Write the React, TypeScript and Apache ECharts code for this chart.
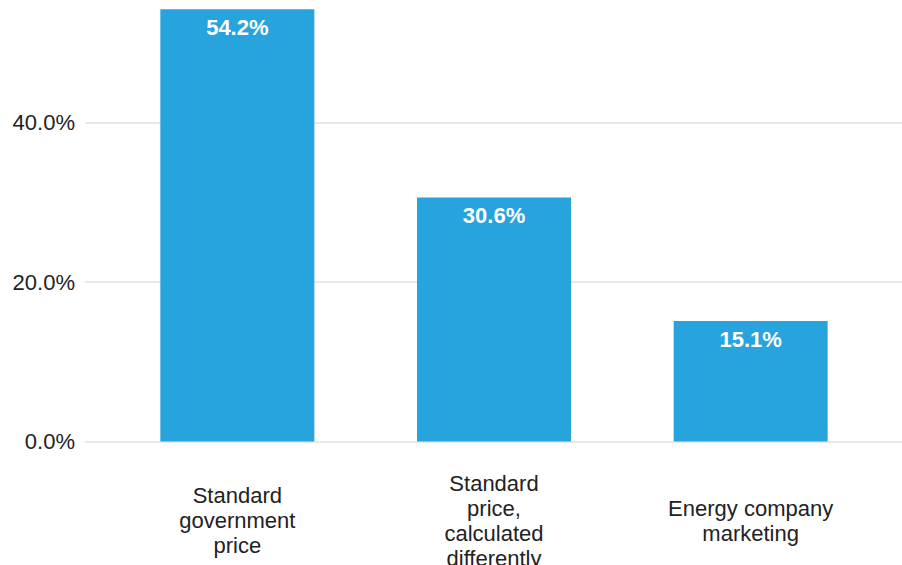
import React, { useEffect, useRef } from "react";
import * as echarts from "echarts";

const categories = [
  "Standard\ngovernment\nprice",
  "Standard\nprice,\ncalculated\ndifferently",
  "Energy company\nmarketing",
];
const values = [54.2, 30.6, 15.1];
const yMin = 0;
const yMax = 60;
const yInterval = 20;
const yLabelLimit = 40;

const FONT = "'Liberation Sans', Arial, sans-serif";

export default function App() {
  const ref = useRef<HTMLDivElement>(null);
  useEffect(() => {
    if (!ref.current) return;
    const chart = echarts.init(ref.current, undefined, { renderer: "svg" });
    chart.setOption({
      animation: false,
      backgroundColor: "#ffffff",
      grid: [
        { left: 85, right: 0, top: -37, bottom: 123.5, containLabel: false, outerBoundsMode: "none" },
        { left: 109, right: 23, top: -37, bottom: 123.5, containLabel: false, outerBoundsMode: "none" },
      ],
      xAxis: [
        { type: "value", gridIndex: 0, show: false, min: 0, max: 1 },
        {
          type: "category",
          gridIndex: 1,
          data: categories,
          axisLine: { show: false },
          axisTick: { show: false },
          axisLabel: {
            interval: 0,
            margin: 79,
            verticalAlign: "middle",
            lineHeight: 25,
            fontSize: 22,
            fontFamily: FONT,
            color: "#222222",
          },
        },
      ],
      yAxis: [
        {
          type: "value",
          gridIndex: 0,
          min: yMin,
          max: yMax,
          interval: yInterval,
          axisLine: { show: false },
          axisTick: { show: false },
          axisLabel: {
            margin: 10,
            fontSize: 22,
            fontFamily: FONT,
            color: "#222222",
            formatter: (v: number) => (v > yLabelLimit ? "" : v.toFixed(1) + "%"),
          },
          splitLine: { show: true, lineStyle: { color: "#dde2e5", width: 1.5 } },
        },
        {
          type: "value",
          gridIndex: 1,
          min: yMin,
          max: yMax,
          interval: yInterval,
          show: false,
          splitLine: { show: false },
        },
      ],
      series: [
        {
          type: "bar",
          xAxisIndex: 1,
          yAxisIndex: 1,
          data: values,
          barWidth: 154,
          itemStyle: { color: "#27a3dd" },
          label: {
            show: true,
            position: "insideTop",
            distance: 7,
            fontSize: 22,
            fontWeight: "bold",
            fontFamily: FONT,
            color: "#ffffff",
            formatter: (p: any) => Number(p.value).toFixed(1) + "%",
          },
        },
      ],
    });
    return () => chart.dispose();
  }, []);
  return (
    <div
      ref={ref}
      style={{ position: "fixed", left: 0, top: 0, width: 902, height: 565 }}
    />
  );
}
